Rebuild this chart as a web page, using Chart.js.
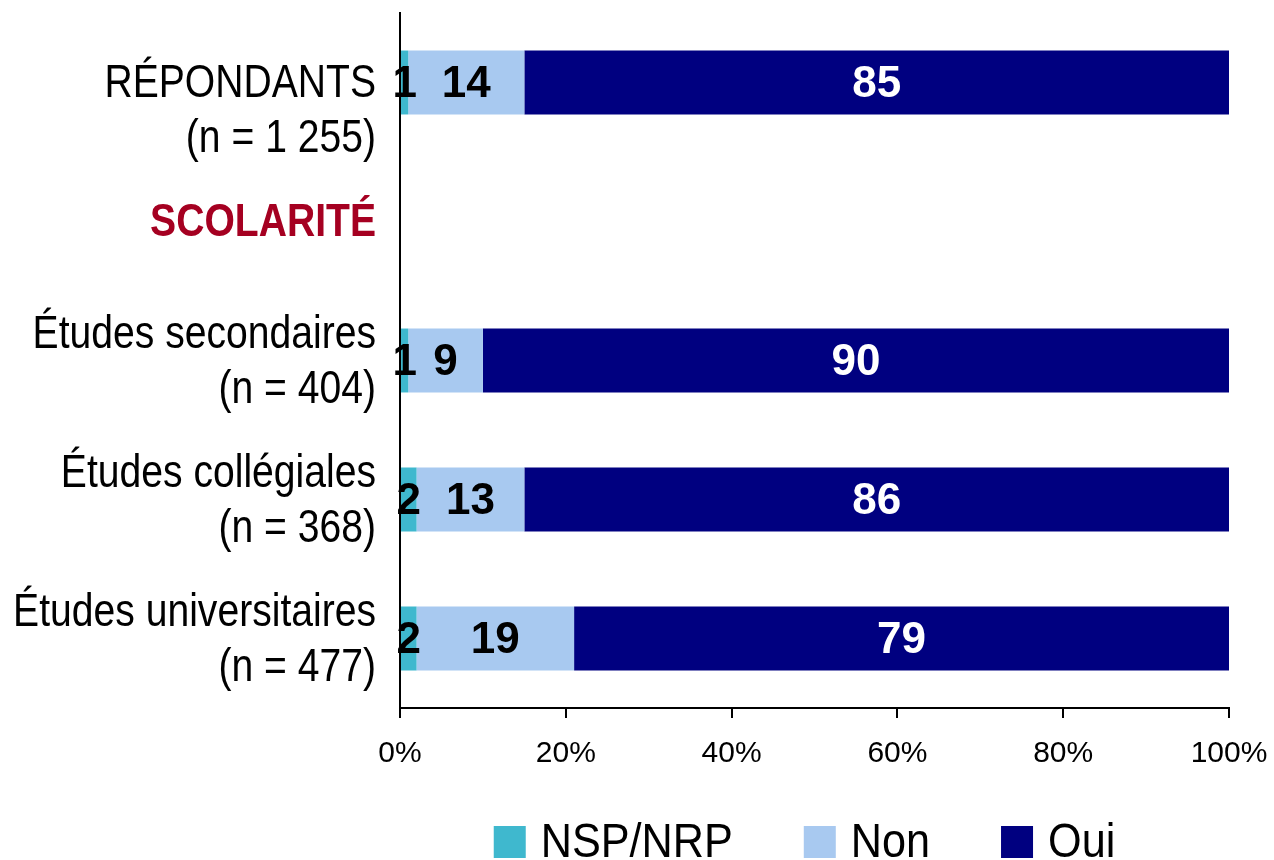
<!DOCTYPE html>
<html>
<head>
<meta charset="utf-8">
<script src="https://cdn.jsdelivr.net/npm/chart.js@4.4.1/dist/chart.umd.min.js"></script>
<style>
  html, body { margin: 0; padding: 0; background: #fff; }
  #wrap { width: 1274px; height: 860px; }
</style>
</head>
<body>
<div id="wrap"><canvas id="c" width="1274" height="860"></canvas></div>
<script>
const categories = [
  ['', 'RÉPONDANTS', '(n = 1 255)'],
  'SCOLARITÉ',
  ['Études secondaires', '(n = 404)'],
  ['Études collégiales', '(n = 368)'],
  ['Études universitaires', '(n = 477)']
];
const seriesNames = ['NSP/NRP', 'Non', 'Oui'];
const nspValues = [1, null, 1, 2, 2];
const nonValues = [14, null, 9, 13, 19];
const ouiValues = [85, null, 90, 86, 79];
const xTicks = [0, 20, 40, 60, 80, 100];

const ARIAL = '"Liberation Sans", Arial, sans-serif';
const NARROW_SCALE = 0.85;   // emulate Arial Narrow by horizontal compression
const LEGEND_SCALE = 0.9;

const colors = ['#3FB8CE', '#A8C9F0', '#000080'];
const labelColors = ['#000000', '#000000', '#FFFFFF'];

const dataLabelPlugin = {
  id: 'dataLabels',
  afterDatasetsDraw(chart) {
    const ctx = chart.ctx;
    const area = chart.chartArea;
    ctx.save();
    ctx.font = 'bold 44px ' + ARIAL;
    ctx.textAlign = 'center';
    ctx.textBaseline = 'middle';
    chart.data.datasets.forEach((ds, di) => {
      const meta = chart.getDatasetMeta(di);
      meta.data.forEach((el, i) => {
        const v = ds.data[i];
        if (v === null || v === undefined) return;
        const a = Math.max(Math.min(el.x, el.base), area.left);
        const b = Math.min(Math.max(el.x, el.base), area.right);
        ctx.fillStyle = labelColors[di];
        ctx.fillText(String(v), (a + b) / 2, el.y + 2);
      });
    });
    ctx.restore();
  }
};

const legendPlugin = {
  id: 'narrowLegend',
  afterDraw(chart) {
    const ctx = chart.ctx;
    const area = chart.chartArea;
    const box = 32, gapText = 15, gapItem = 71;
    ctx.save();
    ctx.font = '48px ' + ARIAL;
    ctx.textBaseline = 'alphabetic';
    ctx.textAlign = 'left';
    const items = chart.data.datasets.map(ds => ({
      text: ds.label, color: ds.backgroundColor,
      w: ctx.measureText(ds.label).width * LEGEND_SCALE
    }));
    let total = 0;
    items.forEach((it, i) => { total += box + gapText + it.w + (i < items.length - 1 ? gapItem : 0); });
    let x = (area.left + area.right) / 2 - 10 - total / 2;
    const baseline = chart.height - 3;
    items.forEach(it => {
      ctx.fillStyle = it.color;
      ctx.fillRect(x, baseline - 31, box, box);
      const tx = x + box + gapText;
      ctx.save();
      ctx.translate(tx, 0);
      ctx.scale(LEGEND_SCALE, 1);
      ctx.fillStyle = '#000';
      ctx.fillText(it.text, 0, baseline);
      ctx.restore();
      x = tx + it.w + gapItem;
    });
    ctx.restore();
  }
};

function narrowLabels(scale) {
  if (scale._narrowed) return;
  scale._narrowed = true;
  const base = Object.getPrototypeOf(scale).drawLabels;
  scale._computeLabelArea = function () { return undefined; };
  scale.drawLabels = function (chartArea) {
    const ctx = this.ctx;
    const x0 = this.right - this.options.ticks.padding;
    ctx.save();
    ctx.translate(x0, 2);
    ctx.scale(NARROW_SCALE, 1);
    ctx.translate(-x0, 0);
    base.call(this, chartArea);
    ctx.restore();
  };
}

new Chart(document.getElementById('c'), {
  type: 'bar',
  data: {
    labels: categories,
    datasets: [
      { label: seriesNames[0], data: nspValues, backgroundColor: colors[0] },
      { label: seriesNames[1], data: nonValues, backgroundColor: colors[1] },
      { label: seriesNames[2], data: ouiValues, backgroundColor: colors[2] }
    ]
  },
  options: {
    indexAxis: 'y',
    responsive: false,
    maintainAspectRatio: false,
    animation: false,
    devicePixelRatio: 1,
    datasets: { bar: { categoryPercentage: 1, barPercentage: 0.46, borderWidth: 0 } },
    layout: { padding: { top: 13, right: 45, bottom: 82, left: 0 } },
    scales: {
      x: {
        stacked: true,
        min: 0,
        max: 100,
        afterBuildTicks(scale) { scale.ticks = xTicks.map(v => ({ value: v })); },
        afterFit(scale) { scale.height = 70; scale.paddingLeft = 0; scale.paddingRight = 0; },
        ticks: {
          callback: v => v + '%',
          font: { family: ARIAL, size: 30 },
          color: '#000',
          padding: 18,
          maxRotation: 0,
          autoSkip: false
        },
        grid: { drawOnChartArea: false, drawTicks: true, tickLength: 10, color: '#000', lineWidth: 2 },
        border: { display: true, color: '#000', width: 2 }
      },
      y: {
        stacked: true,
        afterFit(scale) {
          scale.width = 400; scale.paddingTop = 0; scale.paddingBottom = 0;
          narrowLabels(scale);
        },
        ticks: {
          font: c => ({ family: ARIAL, size: 46, weight: c.index === 1 ? 'bold' : 'normal', lineHeight: 1.2 }),
          color: c => c.index === 1 ? '#A50021' : '#000',
          padding: 24,
          autoSkip: false
        },
        grid: { display: false, drawTicks: false },
        border: { display: true, color: '#000', width: 2 }
      }
    },
    plugins: {
      legend: { display: false },
      tooltip: { enabled: false },
      title: { display: false }
    }
  },
  plugins: [dataLabelPlugin, legendPlugin]
});
</script>
</body>
</html>
